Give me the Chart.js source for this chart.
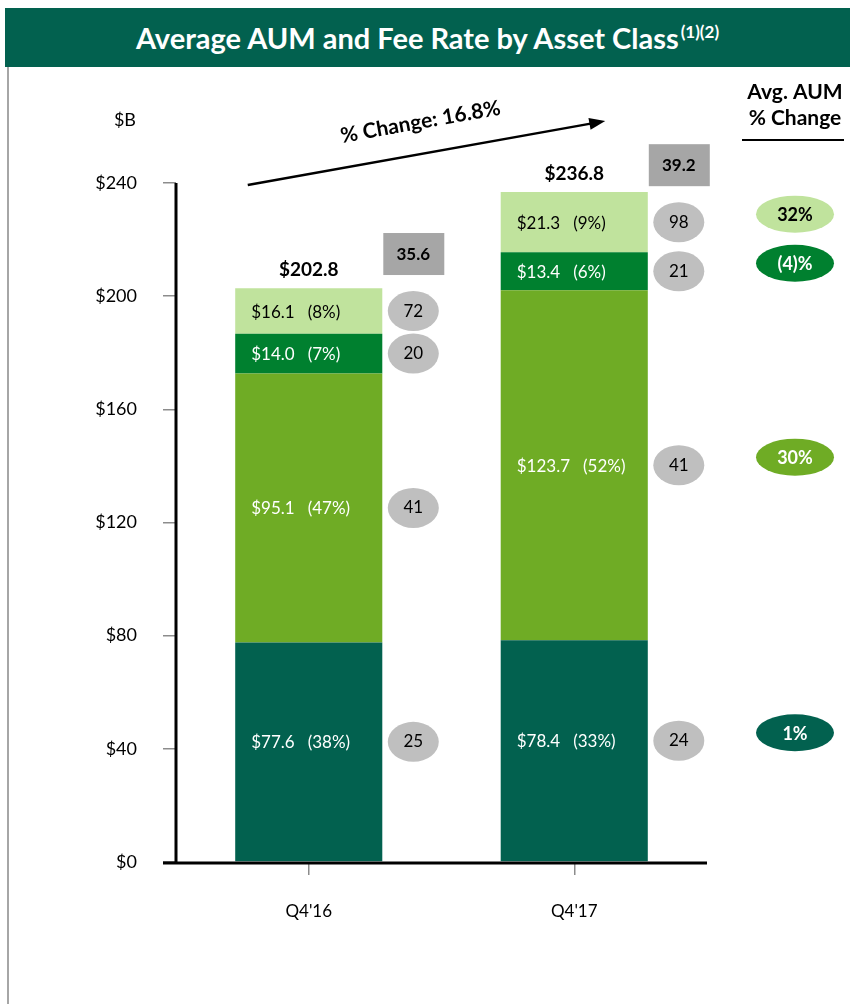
<!DOCTYPE html>
<html>
<head>
<meta charset="utf-8">
<script src="https://cdn.jsdelivr.net/npm/chart.js@4.4.1/dist/chart.umd.min.js"></script>
<style>
  html, body { margin: 0; padding: 0; background: #fff; }
  #page { position: relative; width: 850px; height: 1004px; overflow: hidden; font-family: Lato, 'Open Sans', sans-serif; }
  #titleBar {
    position: absolute; left: 5px; top: 8px; width: 845px; height: 59px;
    background: #02614f; color: #fff; font-weight: bold; font-size: 29px;
    display: flex; align-items: center; justify-content: center;
  }
  #titleBar sup { font-size: 17px; position: relative; top: -6px; margin-left: 2px; }
  #leftRule { position: absolute; left: 7px; top: 67px; width: 2px; height: 937px; background: #a6a6a6; }
  #chartBox { position: absolute; left: 0; top: 0; width: 850px; height: 1004px; }
</style>
</head>
<body>
<div id="page">
  <div id="chartBox"><canvas id="aumChart" width="850" height="1004"></canvas></div>
  <div id="titleBar">Average AUM and Fee Rate by Asset Class<sup>(1)(2)</sup></div>
  <div id="leftRule"></div>
</div>
<script>
// ── Data (bottom segment first) ─────────────────────────────────────────────
const CATEGORIES = ["Q4'16", "Q4'17"];

const AUM_1 = [77.6, 78.4];
const AUM_2 = [95.1, 123.7];
const AUM_3 = [14.0, 13.4];
const AUM_4 = [16.1, 21.3];

const SHARE_1 = ['38%', '33%'];
const SHARE_2 = ['47%', '52%'];
const SHARE_3 = ['7%', '6%'];
const SHARE_4 = ['8%', '9%'];

const FEE_1 = [25, 24];
const FEE_2 = [41, 41];
const FEE_3 = [20, 21];
const FEE_4 = [72, 98];

const TOTAL_AUM = [202.8, 236.8];
const TOTAL_FEE = [35.6, 39.2];
const AUM_CHANGE = ['1%', '30%', '(4)%', '32%'];

const Y_TICKS = [0, 40, 80, 120, 160, 200, 240];

const COLORS = ['#02614f', '#6fac25', '#00802f', '#c0e39d'];
const TEXT_COLORS = ['#ffffff', '#ffffff', '#ffffff', '#000000'];
const FONT = "Lato, 'Open Sans', sans-serif";

const SEGMENTS = [
  { aum: AUM_1, share: SHARE_1, fee: FEE_1 },
  { aum: AUM_2, share: SHARE_2, fee: FEE_2 },
  { aum: AUM_3, share: SHARE_3, fee: FEE_3 },
  { aum: AUM_4, share: SHARE_4, fee: FEE_4 },
];

function ellipse(ctx, cx, cy, rx, ry, fill) {
  ctx.beginPath();
  ctx.ellipse(cx, cy, rx, ry, 0, 0, Math.PI * 2);
  ctx.fillStyle = fill;
  ctx.fill();
}

function text(ctx, str, x, y, font, color, align = 'center') {
  ctx.font = font;
  ctx.fillStyle = color;
  ctx.textAlign = align;
  ctx.textBaseline = 'middle';
  ctx.fillText(str, x, y);
}

// ── Labels, fee circles, arrow, right column ────────────────────────────────
const annotations = {
  id: 'annotations',
  afterDatasetsDraw(chart) {
    const { ctx, chartArea, scales: { x, y } } = chart;
    ctx.save();

    // axes
    ctx.strokeStyle = '#000';
    ctx.lineWidth = 3;
    ctx.beginPath();
    ctx.moveTo(chartArea.left, y.getPixelForValue(240));
    ctx.lineTo(chartArea.left, chartArea.bottom + 1);
    ctx.stroke();
    ctx.beginPath();
    ctx.moveTo(chartArea.left - 13, chartArea.bottom + 1);
    ctx.lineTo(chartArea.right, chartArea.bottom + 1);
    ctx.stroke();

    // $B unit label
    text(ctx, '$B', chartArea.left - 40, y.getPixelForValue(240) - 63, `18px ${FONT}`, '#000', 'right');

    const circleY = [[], []];
    SEGMENTS.forEach((seg, i) => {
      const meta = chart.getDatasetMeta(i);
      meta.data.forEach((bar, j) => {
        let mid = (bar.y + bar.base) / 2;
        if (i === 0) mid -= 10;
        circleY[j][i] = mid;
        const left = bar.x - bar.width / 2;
        text(ctx, `$${seg.aum[j].toFixed(1)}   (${seg.share[j]})`, left + 16, mid + 1,
          `17px ${FONT}`, TEXT_COLORS[i], 'left');
        const cx = bar.x + bar.width / 2 + 31;
        ellipse(ctx, cx, mid, 25.5, 20, '#bfbfbf');
        text(ctx, String(seg.fee[j]), cx, mid, `17px ${FONT}`, '#000');
      });
    });

    // totals and total fee boxes
    const topMeta = chart.getDatasetMeta(SEGMENTS.length - 1);
    topMeta.data.forEach((bar, j) => {
      text(ctx, `$${TOTAL_AUM[j].toFixed(1)}`, bar.x, bar.y - 18, `bold 19px ${FONT}`, '#000');
      const cx = bar.x + bar.width / 2 + 31;
      const cy = circleY[j][SEGMENTS.length - 1] - 57;
      ctx.fillStyle = '#a6a6a6';
      ctx.fillRect(cx - 30, cy - 21, 61, 42);
      text(ctx, TOTAL_FEE[j].toFixed(1), cx, cy, `bold 17px ${FONT}`, '#000');
    });

    // growth arrow
    const x0 = x.getPixelForValue(0) - 61, y0 = y.getPixelForValue(240) + 2;
    const x1 = x.getPixelForValue(1) + 31, y1 = y.getPixelForValue(240) - 62;
    const ang = Math.atan2(y1 - y0, x1 - x0);
    ctx.strokeStyle = '#000';
    ctx.lineWidth = 2.5;
    ctx.beginPath();
    ctx.moveTo(x0, y0);
    ctx.lineTo(x1 - 12 * Math.cos(ang), y1 - 12 * Math.sin(ang));
    ctx.stroke();
    ctx.save();
    ctx.translate(x1, y1);
    ctx.rotate(ang);
    ctx.beginPath();
    ctx.moveTo(0, 0);
    ctx.lineTo(-16, -6);
    ctx.lineTo(-16, 6);
    ctx.closePath();
    ctx.fillStyle = '#000';
    ctx.fill();
    ctx.restore();

    const pct = ((TOTAL_AUM[1] / TOTAL_AUM[0] - 1) * 100).toFixed(1);
    ctx.save();
    ctx.translate((x0 + x1) / 2 - 6, (y0 + y1) / 2 - 31);
    ctx.rotate(ang);
    text(ctx, `% Change: ${pct}%`, 0, 0, `bold 21px ${FONT}`, '#000');
    ctx.restore();

    // right column: Avg. AUM % change
    const rx = 795;
    text(ctx, 'Avg. AUM', rx, y.getPixelForValue(240) - 91, `bold 21px ${FONT}`, '#000');
    text(ctx, '% Change', rx, y.getPixelForValue(240) - 65, `bold 21px ${FONT}`, '#000');
    ctx.fillStyle = '#000';
    ctx.fillRect(rx - 53, y.getPixelForValue(240) - 44, 102, 2);
    AUM_CHANGE.forEach((lbl, i) => {
      const cy = circleY[1][i] - 8;
      ellipse(ctx, rx, cy, 39, 18.5, COLORS[i]);
      text(ctx, lbl, rx, cy + 1, `bold 18px ${FONT}`, TEXT_COLORS[i]);
    });

    ctx.restore();
  }
};

new Chart(document.getElementById('aumChart'), {
  type: 'bar',
  data: {
    labels: CATEGORIES,
    datasets: SEGMENTS.map((seg, i) => ({
      label: `Asset class ${i + 1}`,
      data: seg.aum,
      backgroundColor: COLORS[i],
      borderWidth: 0,
      barPercentage: 0.554,
      categoryPercentage: 1,
    })),
  },
  options: {
    responsive: false,
    animation: false,
    events: [],
    layout: { padding: { top: 183, right: 143, bottom: 0, left: 0 } },
    plugins: { legend: { display: false }, tooltip: { enabled: false } },
    scales: {
      x: {
        stacked: true,
        border: { display: false },
        grid: { offset: false, drawOnChartArea: false, drawTicks: true, tickLength: 13, color: '#8c8c8c', lineWidth: 1.5 },
        ticks: { color: '#000', font: { family: FONT, size: 17 }, padding: 26 },
        afterFit: s => { s.height = 142; },
      },
      y: {
        stacked: true,
        min: 0,
        max: 240,
        border: { display: false },
        afterBuildTicks: s => { s.ticks = Y_TICKS.map(v => ({ value: v })); },
        grid: { drawOnChartArea: false, drawTicks: true, tickLength: 13, color: '#8c8c8c', lineWidth: 1.5 },
        ticks: { color: '#000', font: { family: FONT, size: 18 }, padding: 26, callback: v => '$' + v },
        afterFit: s => { s.width = 176; },
      },
    },
  },
  plugins: [annotations],
});
</script>
</body>
</html>
